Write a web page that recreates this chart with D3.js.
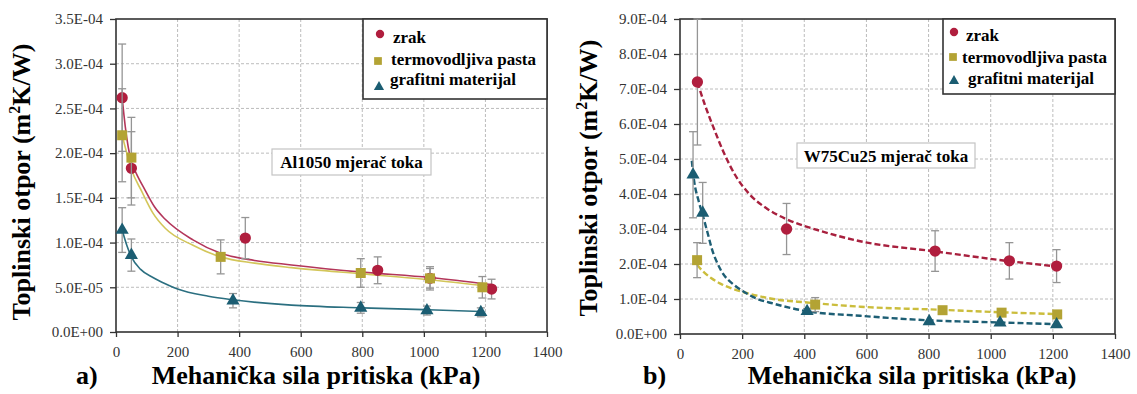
<!DOCTYPE html>
<html>
<head>
<meta charset="utf-8">
<script src="https://cdn.jsdelivr.net/npm/d3@7"></script>
<style>
  body { margin: 0; background: #fff; }
  svg { display: block; }
</style>
</head>
<body>
<svg id="chart" width="1137" height="394"></svg>
<script>
// axes
const xTicks = [0, 200, 400, 600, 800, 1000, 1200, 1400];
const yTicksA = [0, 5e-5, 1e-4, 1.5e-4, 2e-4, 2.5e-4, 3e-4, 3.5e-4];
const yLabelsA = ['0.0E+00', '5.0E-05', '1.0E-04', '1.5E-04', '2.0E-04', '2.5E-04', '3.0E-04', '3.5E-04'];
const yTicksB = [0, 1e-4, 2e-4, 3e-4, 4e-4, 5e-4, 6e-4, 7e-4, 8e-4, 9e-4];
const yLabelsB = ['0.0E+00', '1.0E-04', '2.0E-04', '3.0E-04', '4.0E-04', '5.0E-04', '6.0E-04', '7.0E-04', '8.0E-04', '9.0E-04'];

const seriesNames = ['zrak', 'termovodljiva pasta', 'grafitni materijal'];

// a) Al1050 — measured points [kPa, R, ±err]
const aZrak = [[20, 2.62e-4, 6.0e-5], [50, 1.83e-4, 4.1e-5], [420, 1.05e-4, 2.3e-5], [850, 6.9e-5, 1.5e-5], [1020, 6.0e-5, 1.1e-5], [1220, 4.8e-5, 1.1e-5]];
const aPasta = [[20, 2.2e-4, 5.2e-5], [50, 1.95e-4, 4.5e-5], [340, 8.4e-5, 1.9e-5], [795, 6.6e-5, 1.6e-5], [1020, 6.0e-5, 1.3e-5], [1190, 5.0e-5, 1.2e-5]];
const aGrafit = [[20, 1.14e-4, 2.5e-5], [50, 8.6e-5, 1.8e-5], [380, 3.5e-5, 8e-6], [795, 2.7e-5, 6e-6], [1010, 2.4e-5, 5e-6], [1185, 2.2e-5, 5e-6]];

// a) trend lines [kPa, R]
const aZrakFit = [[20, 2.62e-4], [30, 2.3e-4], [50, 1.9e-4], [65, 1.78e-4], [94, 1.59e-4], [125, 1.40e-4], [160, 1.26e-4], [250, 1.03e-4], [340, 8.8e-5], [450, 8.0e-5], [570, 7.5e-5], [800, 6.7e-5], [1020, 6.1e-5], [1220, 5.3e-5]];
const aPastaFit = [[20, 2.2e-4], [35, 2.0e-4], [50, 1.82e-4], [84, 1.57e-4], [120, 1.33e-4], [160, 1.16e-4], [250, 9.7e-5], [340, 8.4e-5], [450, 7.7e-5], [570, 7.2e-5], [800, 6.5e-5], [1000, 5.9e-5], [1190, 5.2e-5]];
const aGrafitFit = [[20, 1.14e-4], [35, 9.7e-5], [50, 8.4e-5], [80, 7.0e-5], [120, 6.1e-5], [160, 5.4e-5], [200, 4.8e-5], [300, 4.0e-5], [380, 3.6e-5], [570, 3.0e-5], [800, 2.7e-5], [1000, 2.5e-5], [1185, 2.3e-5]];

// b) W75Cu25 — measured points [kPa, R, ±err]
const bZrak = [[56, 7.2e-4, 1.8e-4], [343, 3.0e-4, 7.3e-5], [821, 2.37e-4, 5.8e-5], [1060, 2.09e-4, 5.2e-5], [1212, 1.94e-4, 4.7e-5]];
const bPasta = [[55, 2.11e-4, 5.0e-5], [435, 8.4e-5, 2.0e-5], [845, 6.8e-5, 0], [1035, 6.1e-5, 0], [1214, 5.6e-5, 0]];
const bGrafit = [[42, 4.55e-4, 1.23e-4], [73, 3.46e-4, 8.7e-5], [409, 6.5e-5, 8e-6], [802, 3.6e-5, 0], [1030, 3.2e-5, 0], [1212, 2.7e-5, 0]];

// b) trend lines [kPa, R]
const bZrakFit = [[56, 7.2e-4], [80, 6.55e-4], [110, 5.85e-4], [140, 5.2e-4], [177, 4.55e-4], [225, 3.98e-4], [280, 3.58e-4], [343, 3.28e-4], [450, 2.95e-4], [580, 2.65e-4], [821, 2.36e-4], [1060, 2.08e-4], [1212, 1.93e-4]];
const bPastaFit = [[55, 1.97e-4], [75, 1.78e-4], [100, 1.6e-4], [130, 1.44e-4], [177, 1.27e-4], [203, 1.2e-4], [300, 1.0e-4], [409, 9.0e-5], [580, 7.8e-5], [845, 6.9e-5], [1035, 6.2e-5], [1214, 5.7e-5]];
const bGrafitFit = [[38, 4.95e-4], [45, 4.4e-4], [60, 3.8e-4], [73, 3.4e-4], [90, 2.85e-4], [102, 2.45e-4], [130, 1.85e-4], [177, 1.38e-4], [203, 1.22e-4], [250, 1.0e-4], [300, 8.7e-5], [409, 6.5e-5], [580, 5.2e-5], [802, 3.9e-5], [1030, 3.3e-5], [1212, 2.8e-5]];

const RED = '#b01e3e';
const OLIVE = '#b3a334';
const TEAL = '#1b5d72';
const GRID = '#b4b4b4';
const FRAME = '#333';
const ERR = '#959595';
const SERIF = '"Liberation Serif"';

const svg = d3.select('#chart');

function marker(kind, size) {
  const type = kind === 0 ? d3.symbolCircle : kind === 1 ? d3.symbolSquare : d3.symbolTriangle;
  return d3.symbol().type(type).size(size)();
}

function drawPanel(p) {
  const x = d3.scaleLinear().domain([0, 1400]).range([p.left, p.right]);
  const y = d3.scaleLinear().domain([0, p.yMax]).range([p.bottom, p.top]);
  const g = svg.append('g');

  // dashed grid
  g.selectAll('.vgrid')
    .data(xTicks.slice(1, -1))
    .enter()
    .append('line')
    .attr('x1', (d) => x(d)).attr('x2', (d) => x(d))
    .attr('y1', p.top).attr('y2', p.bottom)
    .attr('stroke', GRID).attr('stroke-width', 0.9).attr('stroke-dasharray', '3,2');
  g.selectAll('.hgrid')
    .data(p.yTicks.slice(1, -1))
    .enter()
    .append('line')
    .attr('x1', p.left).attr('x2', p.right)
    .attr('y1', (d) => y(d)).attr('y2', (d) => y(d))
    .attr('stroke', GRID).attr('stroke-width', 0.9).attr('stroke-dasharray', '3,2');

  // axes
  const ya = g.append('g')
    .attr('transform', `translate(${p.left},0)`)
    .call(d3.axisLeft(y).tickValues(p.yTicks).tickFormat((d, i) => p.yLabels[i]).tickSize(6).tickPadding(7));
  const xa = g.append('g')
    .attr('transform', `translate(0,${p.bottom})`)
    .call(d3.axisBottom(x).tickValues(xTicks).tickFormat(d3.format('d')).tickSize(5).tickPadding(9));
  [ya, xa].forEach((a) => {
    a.attr('font-family', null);
    a.select('.domain').remove();
    a.selectAll('.tick line').attr('stroke', FRAME).attr('stroke-width', 1.3);
    a.selectAll('text').attr('fill', '#333').style('font-family', SERIF).style('font-size', '15px');
  });

  g.append('rect')
    .attr('x', p.left).attr('y', p.top)
    .attr('width', p.right - p.left).attr('height', p.bottom - p.top)
    .attr('fill', 'none').attr('stroke', FRAME).attr('stroke-width', 1.6);

  // trend lines
  const line = d3.line().x((d) => x(d[0])).y((d) => y(d[1])).curve(d3.curveMonotoneX);
  p.fits.forEach((f, i) => {
    g.append('path').datum(f)
      .attr('fill', 'none')
      .attr('stroke', p.lineColors[i])
      .attr('stroke-width', p.dashed ? 2.4 : 1.6)
      .attr('stroke-dasharray', p.dashed ? '6,3' : null)
      .attr('d', line);
  });

  // error bars + markers, one series at a time
  const colors = [RED, OLIVE, TEAL];
  const sizes = [100, 100, 75];
  p.series.forEach((s, i) => {
    const eb = g.append('g').attr('stroke', ERR).attr('stroke-width', 1.3);
    s.filter((d) => d[2] > 0).forEach((d) => {
      const cx = x(d[0]);
      eb.append('line').attr('x1', cx).attr('x2', cx).attr('y1', y(d[1] + d[2])).attr('y2', y(d[1] - d[2]));
      [d[1] + d[2], d[1] - d[2]].forEach((v) => {
        eb.append('line').attr('x1', cx - 4).attr('x2', cx + 4).attr('y1', y(v)).attr('y2', y(v));
      });
    });
    g.selectAll(null)
      .data(s)
      .enter()
      .append('path')
      .attr('d', marker(i, sizes[i]))
      .attr('transform', (d) => `translate(${x(d[0])},${y(d[1])})`)
      .attr('fill', colors[i]);
  });

  // annotation box
  const ab = p.note;
  g.append('rect')
    .attr('x', ab.x).attr('y', ab.y).attr('width', ab.w).attr('height', ab.h)
    .attr('fill', '#fff').attr('stroke', '#c4c4c4').attr('stroke-width', 1.2);
  g.append('text')
    .attr('x', ab.x + ab.w / 2).attr('y', ab.y + 19)
    .attr('text-anchor', 'middle')
    .style('font-family', SERIF).style('font-size', '17px').style('font-weight', 'bold')
    .text(ab.text);

  // legend
  const lg = p.legend;
  g.append('rect')
    .attr('x', lg.x).attr('y', p.top).attr('width', p.right - lg.x).attr('height', lg.h)
    .attr('fill', '#fff').attr('stroke', FRAME).attr('stroke-width', 1.6);
  seriesNames.forEach((name, i) => {
    g.append('path')
      .attr('d', marker(i, [55, 60, 45][i]))
      .attr('transform', `translate(${lg.mx[i]},${lg.my[i]})`)
      .attr('fill', colors[i]);
    g.append('text')
      .attr('x', lg.tx[i]).attr('y', lg.ty[i])
      .style('font-family', SERIF).style('font-size', '17px').style('font-weight', 'bold')
      .text(name);
  });

  // axis titles
  const yt = g.append('text')
    .attr('transform', `translate(${p.yTitleX},${p.yTitleY}) rotate(-90)`)
    .attr('text-anchor', 'middle')
    .style('font-family', SERIF).style('font-size', '26px').style('font-weight', 'bold');
  yt.append('tspan').text('Toplinski otpor (m');
  yt.append('tspan').attr('dy', -10).style('font-size', '16px').text('2');
  yt.append('tspan').attr('dy', 10).text('K/W)');

  g.append('text')
    .attr('x', p.xTitleX).attr('y', 384)
    .attr('text-anchor', 'middle')
    .style('font-family', SERIF).style('font-size', '26px').style('font-weight', 'bold')
    .text('Mehanička sila pritiska (kPa)');
  g.append('text')
    .attr('x', p.tagX).attr('y', 384)
    .style('font-family', SERIF).style('font-size', '26px').style('font-weight', 'bold')
    .text(p.tag);
}

drawPanel({
  left: 116, right: 547, top: 19, bottom: 332,
  yMax: 3.5e-4, yTicks: yTicksA, yLabels: yLabelsA,
  series: [aZrak, aPasta, aGrafit],
  fits: [aZrakFit, aPastaFit, aGrafitFit],
  lineColors: ['#b3365a', '#d3c65a', '#2b6f80'],
  dashed: false,
  note: { x: 272, y: 149, w: 159, h: 26, text: 'Al1050 mjerač toka' },
  legend: { x: 363, h: 80, mx: [380, 378, 379], my: [34, 61, 87], tx: [393, 391, 390], ty: [43, 65, 85] },
  yTitleX: 30, yTitleY: 182, xTitleX: 316, tagX: 76, tag: 'a)',
});

drawPanel({
  left: 680, right: 1115, top: 19, bottom: 334,
  yMax: 9e-4, yTicks: yTicksB, yLabels: yLabelsB,
  series: [bZrak, bPasta, bGrafit],
  fits: [bZrakFit, bPastaFit, bGrafitFit],
  lineColors: ['#a8203e', '#cbbd3c', '#1d5e74'],
  dashed: true,
  note: { x: 797, y: 143, w: 178, h: 25, text: 'W75Cu25 mjerač toka' },
  legend: { x: 943, h: 75, mx: [954, 953, 954], my: [32, 57, 81], tx: [966, 962, 968], ty: [41, 63, 84] },
  yTitleX: 597, yTitleY: 178, xTitleX: 912, tagX: 643, tag: 'b)',
});
</script>
</body>
</html>
